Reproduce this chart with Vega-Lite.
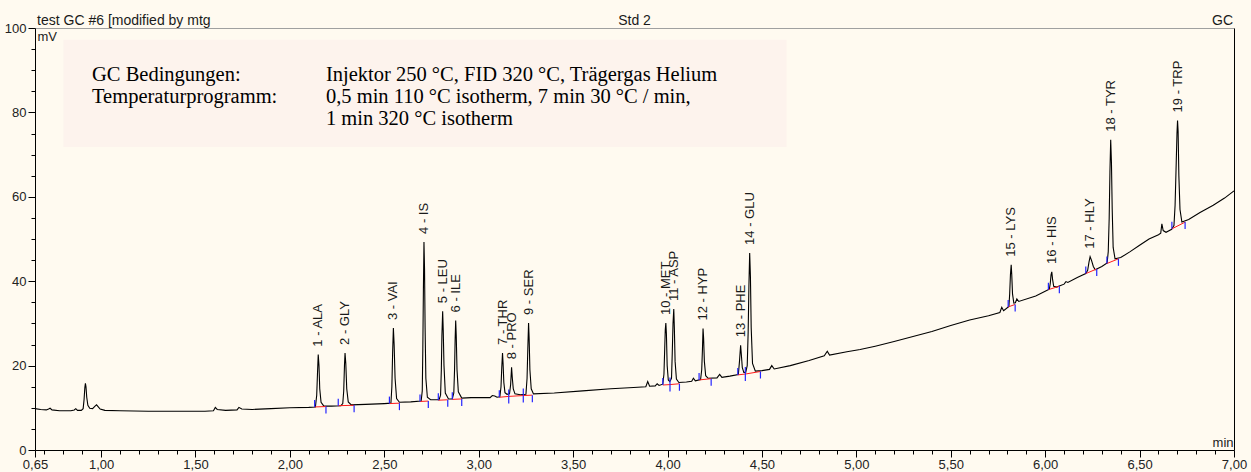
{
  "$schema": "https://vega.github.io/schema/vega-lite/v6.json",
  "width": 1199,
  "height": 422,
  "autosize": {"type": "none"},
  "padding": {"left": 35, "top": 28, "right": 17, "bottom": 22},
  "background": "#fffaf0",
  "config": {
    "view": {"stroke": null},
    "font": "Liberation Sans",
    "axis": {"labelFont": "Liberation Sans", "labelFontSize": 13, "labelColor": "#222", "titleFont": "Liberation Sans", "titleFontSize": 13, "titleFontWeight": "normal", "titleColor": "#222", "domainColor": "#000", "tickColor": "#000", "grid": false, "labelFlush": false, "labelOverlap": false}
  },
  "datasets": {
    "trace": [
      {"t":0.65,"v":9.8},{"t":0.68,"v":9.6},{"t":0.71,"v":9.5},{"t":0.722,"v":9.7},{"t":0.73,"v":9.9},{"t":0.74,"v":9.5},{"t":0.78,"v":9.3},{"t":0.84,"v":9.3},{"t":0.858,"v":9.5},{"t":0.866,"v":9.8},{"t":0.875,"v":9.4},{"t":0.895,"v":9.4},{"t":0.905,"v":9.8},{"t":0.91,"v":12.0},{"t":0.914,"v":14.8},{"t":0.917,"v":15.8},{"t":0.92,"v":15.0},{"t":0.924,"v":12.5},{"t":0.93,"v":10.6},{"t":0.94,"v":9.9},{"t":0.955,"v":9.8},{"t":0.968,"v":10.4},{"t":0.976,"v":10.7},{"t":0.984,"v":10.3},{"t":0.995,"v":9.7},{"t":1.02,"v":9.4},{"t":1.1,"v":9.3},{"t":1.25,"v":9.2},{"t":1.4,"v":9.2},{"t":1.55,"v":9.2},{"t":1.595,"v":9.3},{"t":1.605,"v":10.1},{"t":1.615,"v":9.6},{"t":1.66,"v":9.4},{"t":1.72,"v":9.5},{"t":1.73,"v":10.1},{"t":1.745,"v":9.7},{"t":1.8,"v":9.6},{"t":1.9,"v":9.8},{"t":2.0,"v":10.0},{"t":2.1,"v":10.1},
      {"t":2.135,"v":10.2},{"t":2.142,"v":13.0},{"t":2.146,"v":18.0},{"t":2.15,"v":22.6},{"t":2.154,"v":20.0},{"t":2.158,"v":14.5},{"t":2.165,"v":11.3},{"t":2.18,"v":10.4},{"t":2.22,"v":10.4},{"t":2.27,"v":10.5},
      {"t":2.28,"v":11.0},{"t":2.285,"v":14.0},{"t":2.289,"v":20.0},{"t":2.292,"v":23.0},{"t":2.296,"v":20.5},{"t":2.301,"v":14.5},{"t":2.309,"v":11.4},{"t":2.325,"v":10.7},{"t":2.4,"v":10.8},{"t":2.5,"v":11.0},
      {"t":2.535,"v":11.1},{"t":2.54,"v":15.0},{"t":2.544,"v":23.0},{"t":2.548,"v":28.9},{"t":2.552,"v":25.0},{"t":2.557,"v":17.0},{"t":2.565,"v":12.2},{"t":2.58,"v":11.3},{"t":2.64,"v":11.4},
      {"t":2.695,"v":11.6},{"t":2.701,"v":14.0},{"t":2.704,"v":24.0},{"t":2.707,"v":38.0},{"t":2.71,"v":49.3},{"t":2.713,"v":43.0},{"t":2.716,"v":29.0},{"t":2.72,"v":17.0},{"t":2.728,"v":12.5},{"t":2.745,"v":11.9},
      {"t":2.79,"v":11.9},{"t":2.798,"v":13.0},{"t":2.802,"v":19.0},{"t":2.805,"v":27.0},{"t":2.809,"v":32.9},{"t":2.812,"v":28.5},{"t":2.816,"v":20.0},{"t":2.823,"v":13.5},{"t":2.84,"v":12.1},
      {"t":2.86,"v":12.1},{"t":2.868,"v":13.5},{"t":2.872,"v":19.0},{"t":2.875,"v":26.0},{"t":2.878,"v":30.7},{"t":2.881,"v":27.0},{"t":2.885,"v":19.0},{"t":2.892,"v":13.8},{"t":2.91,"v":12.3},{"t":2.96,"v":12.4},{"t":3.03,"v":12.4},
      {"t":3.06,"v":12.4},{"t":3.072,"v":12.9},{"t":3.085,"v":12.8},{"t":3.097,"v":12.5},
      {"t":3.112,"v":12.6},{"t":3.118,"v":15.0},{"t":3.122,"v":19.5},{"t":3.126,"v":23.0},{"t":3.129,"v":20.5},{"t":3.133,"v":16.0},{"t":3.139,"v":13.6},{"t":3.15,"v":13.2},
      {"t":3.163,"v":13.3},{"t":3.169,"v":15.5},{"t":3.174,"v":19.6},{"t":3.178,"v":17.0},{"t":3.183,"v":14.5},{"t":3.192,"v":13.3},{"t":3.22,"v":13.1},
      {"t":3.25,"v":13.2},{"t":3.256,"v":17.0},{"t":3.26,"v":24.0},{"t":3.264,"v":30.1},{"t":3.267,"v":26.5},{"t":3.271,"v":19.0},{"t":3.278,"v":14.5},{"t":3.29,"v":13.3},
      {"t":3.4,"v":13.5},{"t":3.55,"v":14.0},{"t":3.7,"v":14.5},{"t":3.82,"v":14.8},{"t":3.885,"v":15.0},{"t":3.895,"v":16.2},{"t":3.905,"v":15.1},{"t":3.935,"v":15.2},{"t":3.945,"v":15.7},{"t":3.955,"v":15.3},
      {"t":3.975,"v":15.6},{"t":3.981,"v":18.0},{"t":3.985,"v":24.0},{"t":3.988,"v":28.5},{"t":3.991,"v":30.1},{"t":3.994,"v":27.5},{"t":3.998,"v":20.0},{"t":4.004,"v":16.6},{"t":4.012,"v":16.2},
      {"t":4.021,"v":17.0},{"t":4.025,"v":23.0},{"t":4.029,"v":30.0},{"t":4.033,"v":33.4},{"t":4.036,"v":29.0},{"t":4.04,"v":21.0},{"t":4.047,"v":16.8},{"t":4.06,"v":16.0},{"t":4.1,"v":16.1},
      {"t":4.128,"v":16.3},{"t":4.137,"v":17.0},{"t":4.147,"v":16.4},
      {"t":4.175,"v":16.7},{"t":4.181,"v":19.0},{"t":4.185,"v":24.0},{"t":4.188,"v":28.8},{"t":4.191,"v":26.5},{"t":4.195,"v":21.0},{"t":4.202,"v":17.6},{"t":4.215,"v":17.0},
      {"t":4.262,"v":17.1},{"t":4.276,"v":17.9},{"t":4.288,"v":17.2},{"t":4.33,"v":17.5},
      {"t":4.375,"v":17.9},{"t":4.381,"v":21.0},{"t":4.387,"v":24.8},{"t":4.391,"v":22.5},{"t":4.396,"v":19.5},{"t":4.404,"v":18.4},{"t":4.414,"v":18.4},
      {"t":4.422,"v":20.0},{"t":4.427,"v":28.0},{"t":4.431,"v":39.0},{"t":4.435,"v":46.7},{"t":4.439,"v":41.0},{"t":4.443,"v":29.0},{"t":4.45,"v":20.5},{"t":4.465,"v":18.7},
      {"t":4.5,"v":18.8},{"t":4.54,"v":19.1},{"t":4.552,"v":20.0},{"t":4.565,"v":19.2},{"t":4.65,"v":20.0},{"t":4.75,"v":21.2},{"t":4.83,"v":22.3},{"t":4.846,"v":23.4},{"t":4.858,"v":22.5},{"t":4.95,"v":23.3},{"t":5.02,"v":23.8},{"t":5.1,"v":24.6},{"t":5.2,"v":25.7},{"t":5.3,"v":26.9},{"t":5.4,"v":28.1},{"t":5.5,"v":29.5},{"t":5.6,"v":30.8},{"t":5.7,"v":31.8},
      {"t":5.76,"v":32.6},{"t":5.77,"v":33.8},{"t":5.78,"v":33.0},
      {"t":5.808,"v":34.0},{"t":5.812,"v":37.0},{"t":5.816,"v":41.5},{"t":5.82,"v":43.9},{"t":5.823,"v":41.5},{"t":5.827,"v":37.0},{"t":5.834,"v":34.8},{"t":5.842,"v":34.9},{"t":5.85,"v":35.8},{"t":5.86,"v":35.2},
      {"t":5.95,"v":36.5},{"t":6.0,"v":37.6},
      {"t":6.022,"v":38.1},{"t":6.027,"v":39.5},{"t":6.031,"v":41.5},{"t":6.035,"v":42.2},{"t":6.039,"v":40.5},{"t":6.045,"v":38.8},{"t":6.06,"v":38.6},
      {"t":6.1,"v":39.3},{"t":6.11,"v":39.9},{"t":6.12,"v":39.7},{"t":6.17,"v":40.9},{"t":6.215,"v":41.8},
      {"t":6.225,"v":42.6},{"t":6.232,"v":44.5},{"t":6.238,"v":45.8},{"t":6.245,"v":45.0},{"t":6.255,"v":43.5},{"t":6.265,"v":42.7},{"t":6.3,"v":43.5},
      {"t":6.328,"v":44.3},{"t":6.334,"v":47.0},{"t":6.339,"v":55.0},{"t":6.343,"v":66.0},{"t":6.347,"v":73.5},{"t":6.351,"v":68.0},{"t":6.355,"v":57.0},{"t":6.36,"v":48.0},{"t":6.37,"v":45.3},
      {"t":6.4,"v":45.6},{"t":6.45,"v":47.0},{"t":6.5,"v":48.5},{"t":6.55,"v":50.0},{"t":6.6,"v":51.0},{"t":6.612,"v":51.4},{"t":6.618,"v":53.6},{"t":6.625,"v":52.0},{"t":6.64,"v":51.6},{"t":6.67,"v":52.3},
      {"t":6.682,"v":53.2},{"t":6.688,"v":58.0},{"t":6.694,"v":68.0},{"t":6.698,"v":75.0},{"t":6.701,"v":78.1},{"t":6.704,"v":75.5},{"t":6.708,"v":65.0},{"t":6.714,"v":57.0},{"t":6.724,"v":54.0},
      {"t":6.76,"v":54.6},{"t":6.82,"v":56.3},{"t":6.89,"v":58.0},{"t":6.95,"v":59.7},{"t":7.0,"v":61.4}
    ],
    "peaks": [
      {"label":"1 - ALA","t":2.150,"v":22.6,"t0":2.131,"b0":10.2,"t1":2.191,"b1":10.3},
      {"label":"2 - GLY","t":2.292,"v":23.0,"t0":2.256,"b0":10.5,"t1":2.340,"b1":10.6},
      {"label":"3 - VAI","t":2.548,"v":28.9,"t0":2.527,"b0":11.0,"t1":2.580,"b1":11.1},
      {"label":"4 - IS","t":2.710,"v":49.3,"t0":2.689,"b0":11.5,"t1":2.733,"b1":11.6},
      {"label":"5 - LEU","t":2.809,"v":32.9,"t0":2.786,"b0":11.8,"t1":2.836,"b1":11.9},
      {"label":"6 - ILE","t":2.878,"v":30.7,"t0":2.860,"b0":12.0,"t1":2.910,"b1":12.1},
      {"label":"7 - THR","t":3.126,"v":23.0,"t0":3.109,"b0":12.5,"t1":3.159,"b1":12.7},
      {"label":"8 - PRO","t":3.174,"v":19.6,"t0":3.159,"b0":12.7,"t1":3.236,"b1":12.9},
      {"label":"9 - SER","t":3.264,"v":30.1,"t0":3.236,"b0":12.9,"t1":3.284,"b1":13.0},
      {"label":"10 - MET","t":3.991,"v":30.1,"t0":3.975,"b0":15.4,"t1":4.013,"b1":15.5},
      {"label":"11 - ASP","t":4.033,"v":33.4,"t0":4.013,"b0":15.5,"t1":4.063,"b1":15.7},
      {"label":"12 - HYP","t":4.188,"v":28.8,"t0":4.167,"b0":16.6,"t1":4.231,"b1":16.9},
      {"label":"13 - PHE","t":4.387,"v":24.8,"t0":4.372,"b0":17.8,"t1":4.412,"b1":18.0},
      {"label":"14 - GLU","t":4.435,"v":46.7,"t0":4.412,"b0":18.0,"t1":4.492,"b1":18.6},
      {"label":"15 - LYS","t":5.820,"v":43.9,"t0":5.804,"b0":33.9,"t1":5.841,"b1":34.5},
      {"label":"16 - HIS","t":6.035,"v":42.2,"t0":6.017,"b0":38.0,"t1":6.075,"b1":38.8},
      {"label":"17 - HLY","t":6.238,"v":45.8,"t0":6.215,"b0":41.8,"t1":6.273,"b1":42.9},
      {"label":"18 - TYR","t":6.347,"v":73.5,"t0":6.327,"b0":44.2,"t1":6.388,"b1":45.3},
      {"label":"19 - TRP","t":6.701,"v":78.1,"t0":6.671,"b0":52.4,"t1":6.741,"b1":54.0}
    ]
  },
  "resolve": {"axis": {"x": "independent", "y": "independent"}},
  "layer": [
    {
      "data": {"values": [{"t0": 0.80, "t1": 4.63, "v0": 71.8, "v1": 97.2}]},
      "mark": {"type": "rect", "fill": "#fdf3ed"},
      "encoding": {
        "x": {"field": "t0", "type": "quantitative", "scale": {"domain": [0.65, 7.0], "nice": false, "zero": false},
              "axis": {"orient": "bottom", "values": [0.7,0.8,0.9,1,1.1,1.2,1.3,1.4,1.5,1.6,1.7,1.8,1.9,2,2.1,2.2,2.3,2.4,2.5,2.6,2.7,2.8,2.9,3,3.1,3.2,3.3,3.4,3.5,3.6,3.7,3.8,3.9,4,4.1,4.2,4.3,4.4,4.5,4.6,4.7,4.8,4.9,5,5.1,5.2,5.3,5.4,5.5,5.6,5.7,5.8,5.9,6,6.1,6.2,6.3,6.4,6.5,6.6,6.7,6.8,6.9], "labels": false, "domain": false, "tickSize": 4, "title": null}},
        "x2": {"field": "t1"},
        "y": {"field": "v0", "type": "quantitative", "scale": {"domain": [0, 100], "nice": false},
              "axis": {"orient": "left", "values": [5,10,15,25,30,35,45,50,55,65,70,75,85,90,95], "labels": false, "domain": false, "tickSize": 4, "title": null}},
        "y2": {"field": "v1"}
      }
    },
    {
      "data": {"values": [
        {"t": 0.952, "v": 88.9, "txt": "GC Bedingungen:"},
        {"t": 0.952, "v": 83.6, "txt": "Temperaturprogramm:"},
        {"t": 2.191, "v": 88.9, "txt": "Injektor 250 °C, FID 320 °C, Trägergas Helium"},
        {"t": 2.191, "v": 83.6, "txt": "0,5 min 110 °C  isotherm, 7 min 30 °C / min,"},
        {"t": 2.191, "v": 78.4, "txt": "1 min 320 °C isotherm"}
      ]},
      "mark": {"type": "text", "font": "Liberation Serif", "fontSize": 20.5, "align": "left", "baseline": "middle", "color": "#000"},
      "encoding": {
        "x": {"field": "t", "type": "quantitative", "axis": {"orient": "top", "domainColor": "#a0a0a0", "ticks": false, "labels": false, "title": null}},
        "y": {"field": "v", "type": "quantitative", "axis": {"orient": "right", "domainColor": "#000", "ticks": false, "labels": false, "title": null}},
        "text": {"field": "txt"}
      }
    },
    {
      "data": {"name": "trace"},
      "mark": {"type": "line", "color": "#000", "strokeWidth": 1.1},
      "encoding": {
        "x": {"field": "t", "type": "quantitative",
              "axis": {"orient": "bottom", "values": [0.65,1,1.5,2,2.5,3,3.5,4,4.5,5,5.5,6,6.5,7], "labelExpr": "replace(format(datum.value, '.2f'), '.', ',')", "tickSize": 7, "labelPadding": 1, "title": "min", "titleX": 1198, "titleY": -8, "titleAlign": "right", "titleBaseline": "middle", "titleAnchor": null}},
        "y": {"field": "v", "type": "quantitative",
              "axis": {"orient": "left", "values": [0,20,40,60,80,100], "tickSize": 7, "labelPadding": 2, "title": "mV", "titleAngle": 0, "titleX": 2, "titleY": 8, "titleAlign": "left", "titleBaseline": "middle", "titleAnchor": null}}
      }
    },
    {
      "data": {"name": "peaks"},
      "mark": {"type": "rule", "color": "#ff1a1a", "strokeWidth": 1},
      "encoding": {
        "x": {"field": "t0", "type": "quantitative", "axis": null},
        "y": {"field": "b0", "type": "quantitative", "axis": null},
        "x2": {"field": "t1"},
        "y2": {"field": "b1"}
      }
    },
    {
      "data": {"name": "peaks"},
      "mark": {"type": "tick", "orient": "vertical", "color": "#2424ff", "size": 7, "thickness": 1.2, "yOffset": -3.5, "opacity": 1},
      "encoding": {
        "x": {"field": "t0", "type": "quantitative", "axis": null},
        "y": {"field": "b0", "type": "quantitative", "axis": null}
      }
    },
    {
      "data": {"name": "peaks"},
      "mark": {"type": "tick", "orient": "vertical", "color": "#2424ff", "size": 7, "thickness": 1.2, "yOffset": 3.5, "opacity": 1},
      "encoding": {
        "x": {"field": "t1", "type": "quantitative", "axis": null},
        "y": {"field": "b1", "type": "quantitative", "axis": null}
      }
    },
    {
      "data": {"name": "peaks"},
      "mark": {"type": "text", "angle": 270, "align": "left", "baseline": "middle", "dx": 8, "fontSize": 13, "color": "#1a1a1a", "font": "Liberation Sans"},
      "encoding": {
        "x": {"field": "t", "type": "quantitative", "axis": null},
        "y": {"field": "v", "type": "quantitative", "axis": null},
        "text": {"field": "label"}
      }
    },
    {
      "data": {"values": [{"t": 0.661, "v": 100, "txt": "test GC #6 [modified by mtg"}]},
      "mark": {"type": "text", "align": "left", "baseline": "alphabetic", "dy": -3, "fontSize": 14, "color": "#1a1a1a"},
      "encoding": {
        "x": {"field": "t", "type": "quantitative", "axis": null},
        "y": {"field": "v", "type": "quantitative", "axis": null},
        "text": {"field": "txt"}
      }
    },
    {
      "data": {"values": [{"t": 3.825, "v": 100, "txt": "Std 2"}]},
      "mark": {"type": "text", "align": "center", "baseline": "alphabetic", "dy": -3, "fontSize": 14, "color": "#1a1a1a"},
      "encoding": {
        "x": {"field": "t", "type": "quantitative", "axis": null},
        "y": {"field": "v", "type": "quantitative", "axis": null},
        "text": {"field": "txt"}
      }
    },
    {
      "data": {"values": [{"t": 6.995, "v": 100, "txt": "GC"}]},
      "mark": {"type": "text", "align": "right", "baseline": "alphabetic", "dy": -3, "fontSize": 14, "color": "#1a1a1a"},
      "encoding": {
        "x": {"field": "t", "type": "quantitative", "axis": null},
        "y": {"field": "v", "type": "quantitative", "axis": null},
        "text": {"field": "txt"}
      }
    }
  ]
}
